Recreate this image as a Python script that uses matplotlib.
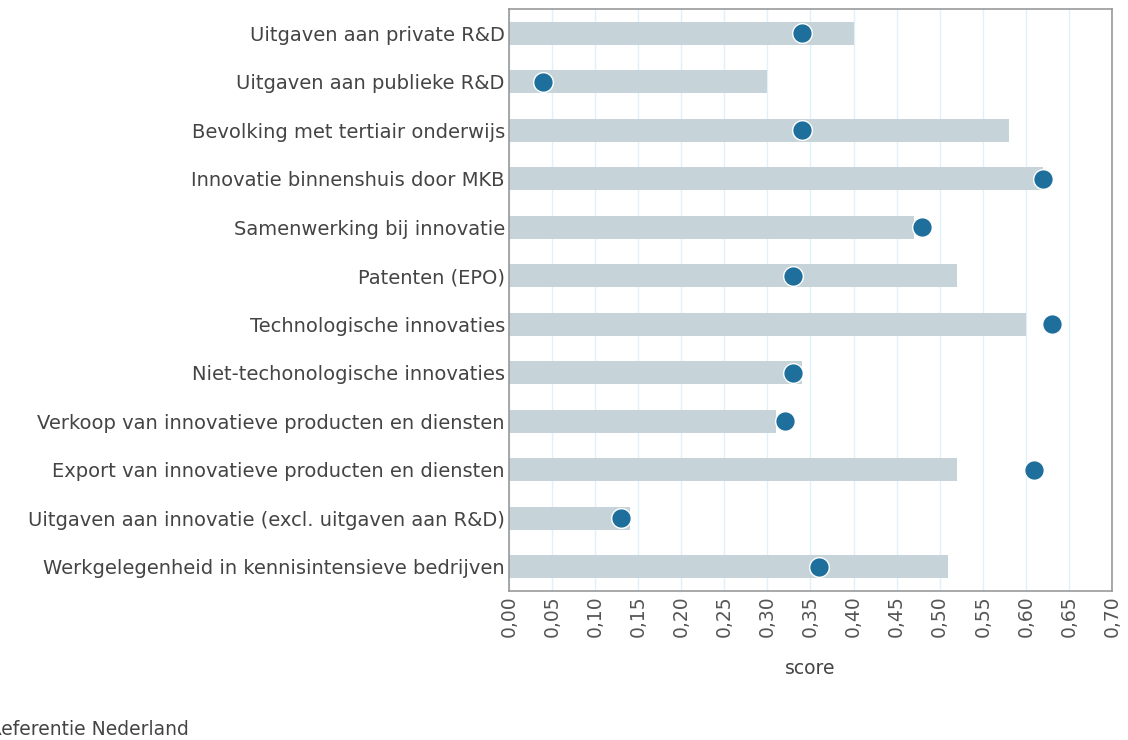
import matplotlib.pyplot as plt
import numpy as np

# Innovation indicators: bar = score, dot = Dutch reference value
indicators = [
    "Uitgaven aan private R&D",
    "Uitgaven aan publieke R&D",
    "Bevolking met tertiair onderwijs",
    "Innovatie binnenshuis door MKB",
    "Samenwerking bij innovatie",
    "Patenten (EPO)",
    "Technologische innovaties",
    "Niet-techonologische innovaties",
    "Verkoop van innovatieve producten en diensten",
    "Export van innovatieve producten en diensten",
    "Uitgaven aan innovatie (excl. uitgaven aan R&D)",
    "Werkgelegenheid in kennisintensieve bedrijven",
]
scores = [0.40, 0.30, 0.58, 0.62, 0.47, 0.52, 0.60, 0.34, 0.31, 0.52, 0.14, 0.51]
referentie_nl = [0.34, 0.04, 0.34, 0.62, 0.48, 0.33, 0.63, 0.33, 0.32, 0.61, 0.13, 0.36]
xticks = np.arange(0, 0.701, 0.05)

TEXT = "#444444"
BAR = "#c6d4da"
DOT = "#1f6f9c"

fig = plt.figure(figsize=(11.28, 7.40), dpi=100)
ax = fig.add_axes([0.4512, 0.2014, 0.5346, 0.7864])

y = np.arange(len(indicators))
ax.barh(y, scores, height=0.47, color=BAR, zorder=2)
ax.scatter(referentie_nl, y, s=200, color=DOT, edgecolors="white",
           linewidths=1.0, zorder=3)

ax.set_xlim(0, 0.70)
ax.set_ylim(len(indicators) - 0.5, -0.5)
ax.set_xticks(xticks)
ax.set_xticklabels([f"{t:.2f}".replace(".", ",") for t in xticks],
                   rotation=90, fontsize=13.5, color="#555555")
ax.set_yticks(y)
ax.set_yticklabels(indicators, fontsize=14, color=TEXT)
ax.tick_params(length=0, pad=3)
ax.grid(axis="x", color="#dff1fb", linewidth=1.0, zorder=0)
ax.set_axisbelow(True)
for s in ax.spines.values():
    s.set_color("#999999")
    s.set_linewidth(1.2)

ax.set_xlabel("score", fontsize=13.5, color=TEXT, labelpad=16)

fig.text(-0.010, 0.002, "Referentie Nederland", fontsize=13.5, color=TEXT,
         ha="left", va="bottom")

fig.savefig("out.png", dpi=100)
